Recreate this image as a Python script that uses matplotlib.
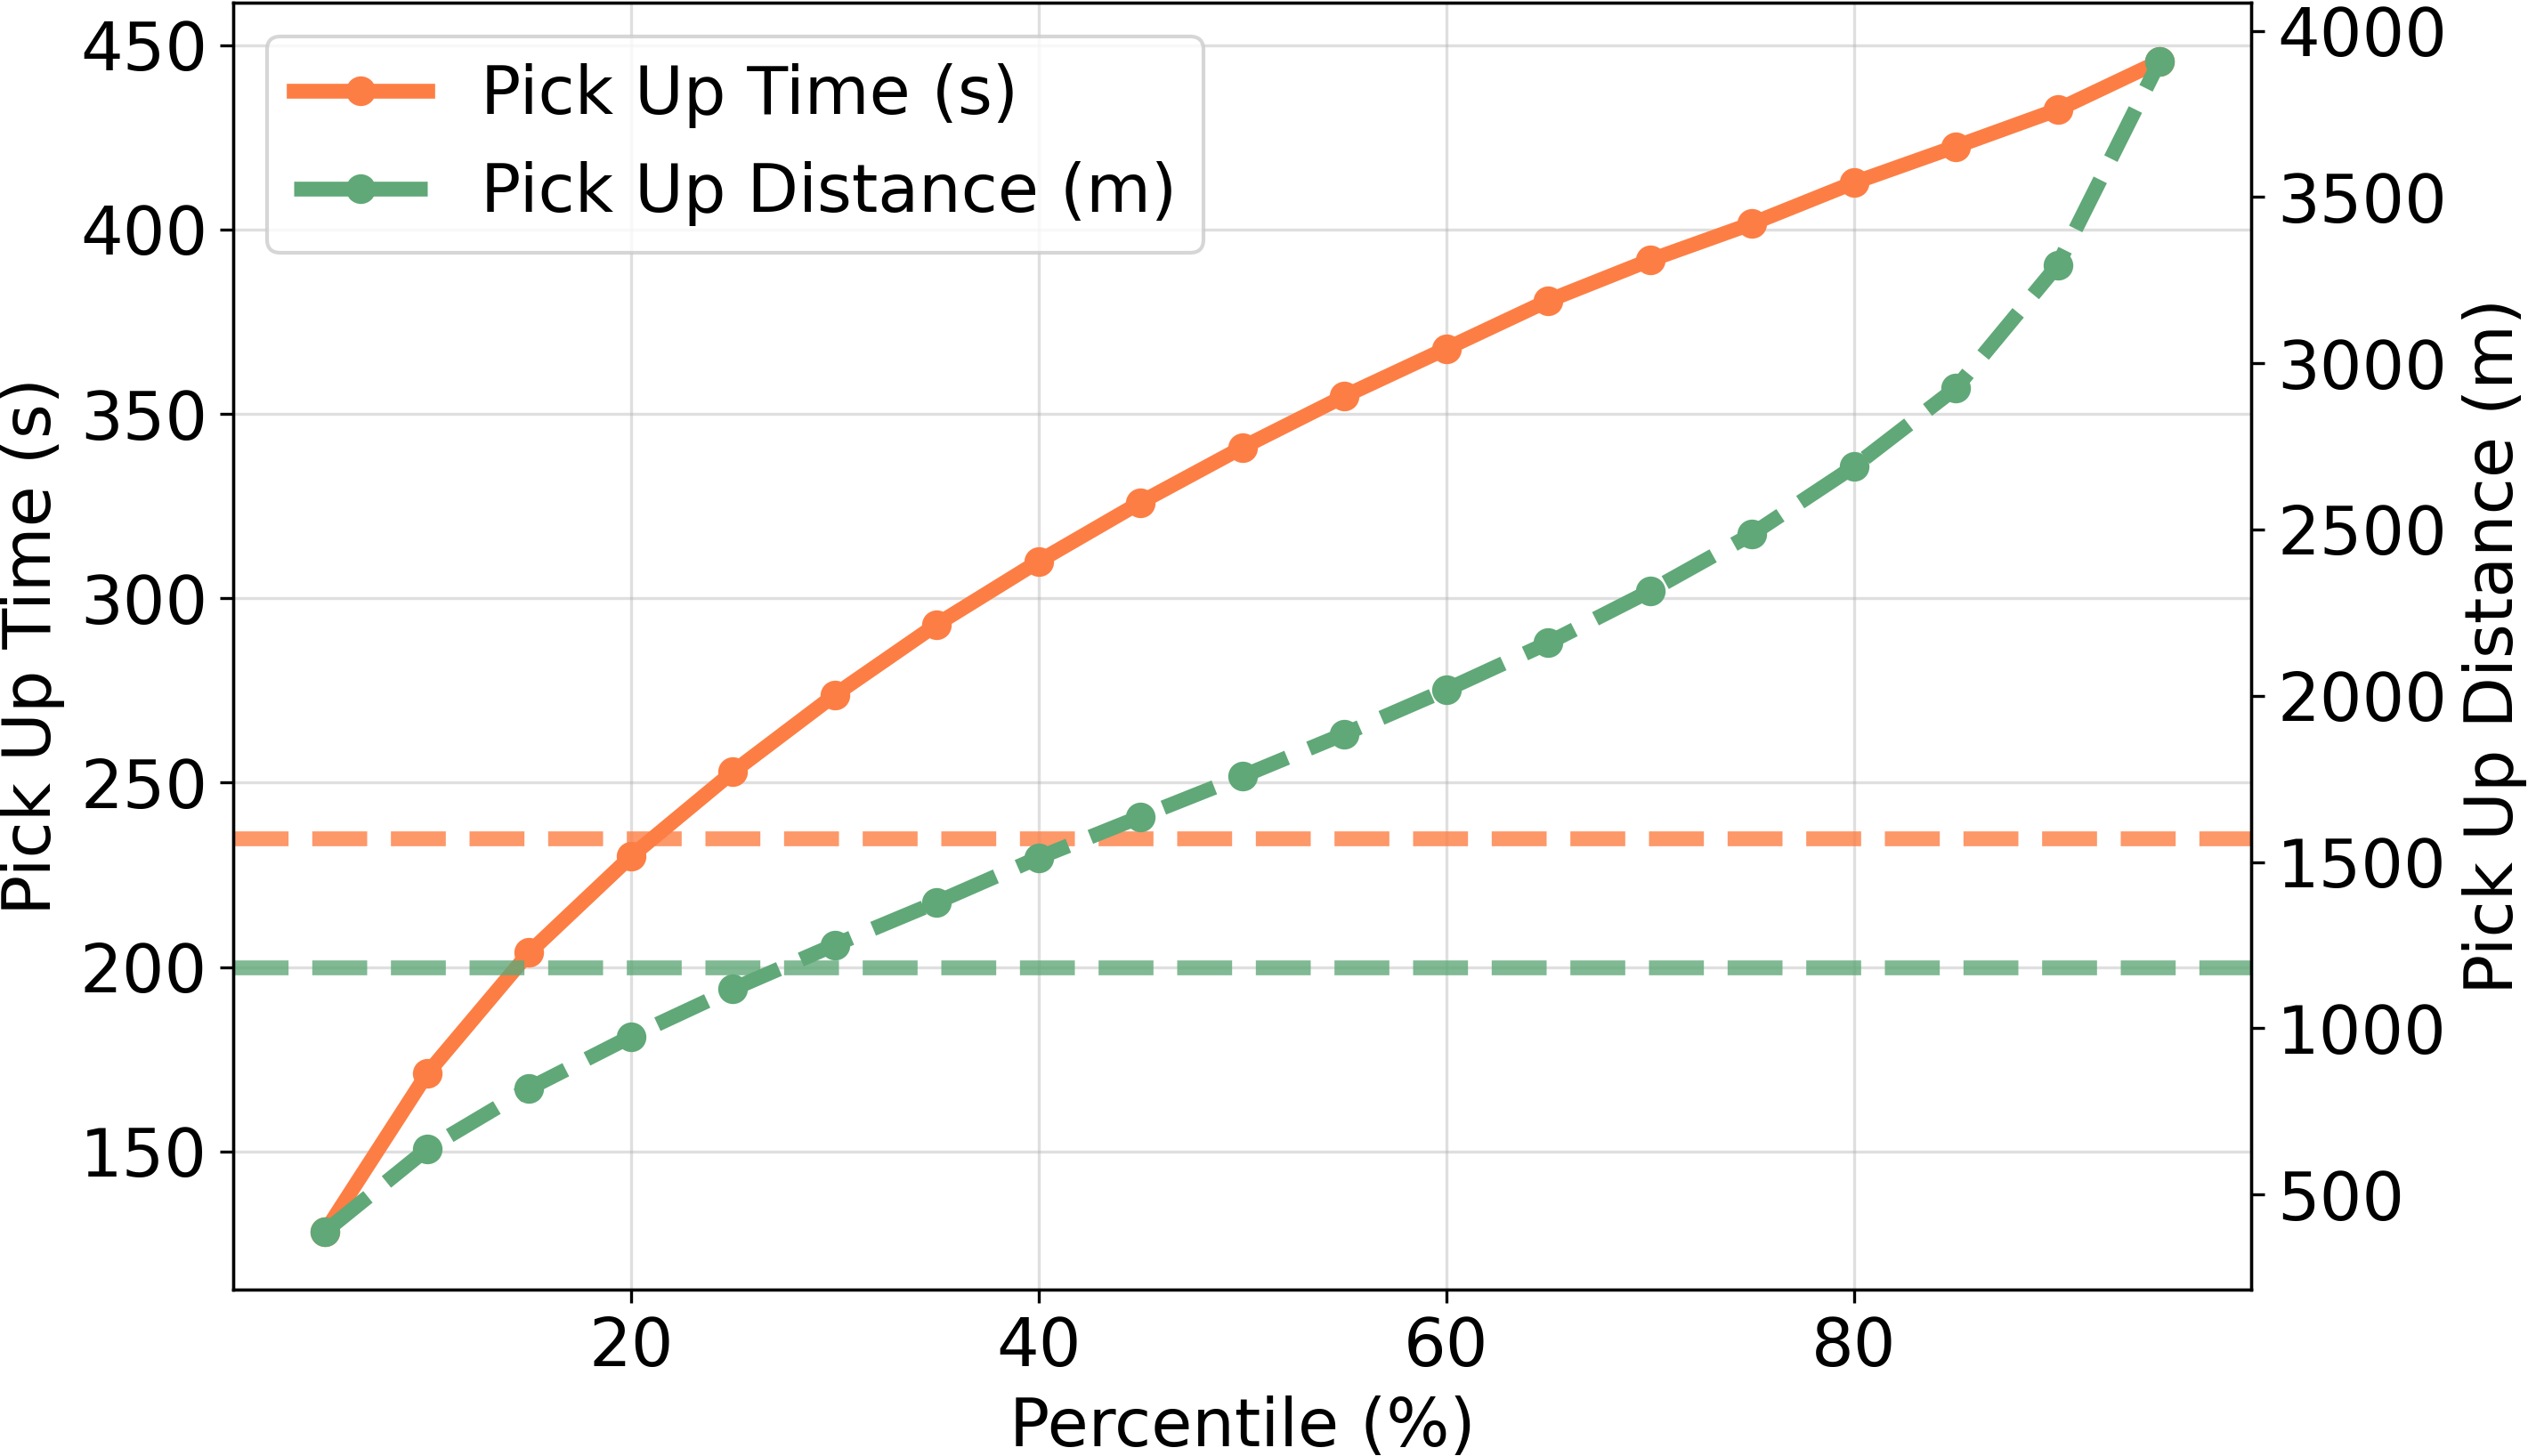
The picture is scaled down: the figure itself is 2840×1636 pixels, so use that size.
import numpy as np
import matplotlib.pyplot as plt

# percentiles and the two curves
percentiles = [5, 10, 15, 20, 25, 30, 35, 40, 45, 50,
               55, 60, 65, 70, 75, 80, 85, 90, 95]
pickup_time = [128.3, 171.1, 203.9, 230.0, 252.9, 273.8, 292.9, 310.0, 326.0, 340.9,
               354.8, 367.7, 380.7, 391.7, 401.6, 412.7, 422.5, 432.5, 445.6]
pickup_dist = [389, 637, 819, 975, 1118, 1251, 1379, 1513, 1636, 1758,
               1885, 2018, 2159, 2315, 2486, 2689, 2925, 3295, 3908]

# reference levels (on the time axis)
time_ref = 235
dist_ref = 200

c_time = '#FD7E44'
c_dist = '#60A878'

plt.rcParams['font.size'] = 18

fig, ax1 = plt.subplots(figsize=(2840 / 300, 1636 / 300), dpi=300)
fig.subplots_adjust(left=0.0924, right=0.8905, bottom=0.1141, top=0.998)

l1, = ax1.plot(percentiles, pickup_time, color=c_time, linestyle='-', marker='o',
               linewidth=4, markersize=7, label='Pick Up Time (s)')
ax1.axhline(time_ref, color=c_time, linestyle='--', linewidth=4, alpha=0.8)
ax1.axhline(dist_ref, color=c_dist, linestyle='--', linewidth=4, alpha=0.8)
ax1.set_xlabel('Percentile (%)')
ax1.set_ylabel('Pick Up Time (s)')
ax1.grid(True, alpha=0.4)

ax2 = ax1.twinx()
l2, = ax2.plot(percentiles, pickup_dist, color=c_dist, linestyle='--', marker='o',
               linewidth=4, markersize=7, label='Pick Up Distance (m)')
ax2.set_ylabel('Pick Up Distance (m)')

ax1.legend(handles=[l1, l2], loc='upper left')

fig.savefig('out.png', dpi=300)
